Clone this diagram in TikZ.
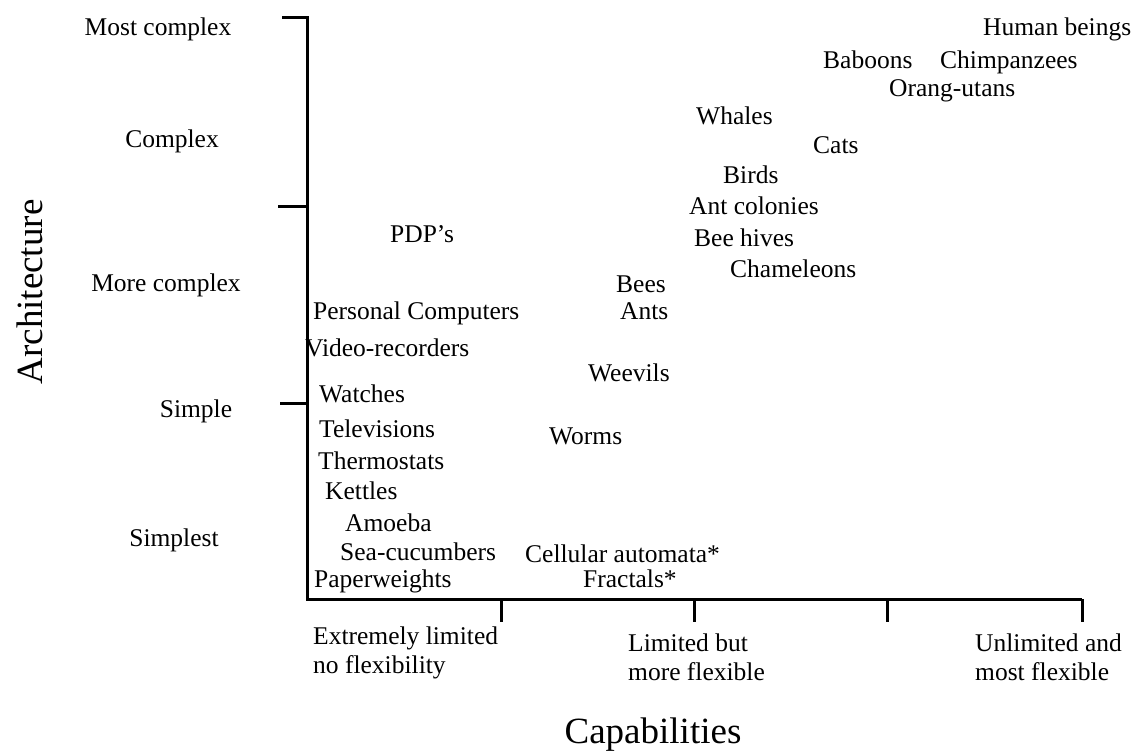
\documentclass[tikz,border=0pt]{standalone}
\usepackage{fontspec}
\setmainfont{Liberation Serif}
\begin{document}
\begin{tikzpicture}[x=1pt,y=-1pt,
  lbl/.style={inner sep=0pt,anchor=mid west,yshift=-5pt,font=\fontsize{25.5}{29}\selectfont},
  ylbl/.style={inner sep=0pt,anchor=mid,yshift=-5pt,font=\fontsize{25.5}{29}\selectfont},
  xlbl/.style={inner sep=0pt,anchor=north west,align=left,yshift=-3pt,font=\fontsize{25.5}{29}\selectfont},
  title/.style={inner sep=0pt,anchor=mid,font=\fontsize{37}{40}\selectfont},
  axis/.style={line width=3pt,line cap=butt},
  tick/.style={line width=3pt}]
\useasboundingbox (0,0) rectangle (1139,751);
% axes
\coordinate (top) at (307,18);
\coordinate (orig) at (307,599);
\coordinate (xend) at (1082,599);
\draw[axis,line join=miter] (282,18) -- (top) -- (orig) -- (xend);
\draw[tick] (278,207) -- (307,207);
\draw[tick] (280,403) -- (307,403);
\foreach \x in {501,694,887,1082} \draw[tick] (\x,599) -- (\x,622);
% axis titles
\node[title,rotate=90] (arch) at (40,292) {Architecture};
\node[title] (cap) at (653,741) {Capabilities};
% y labels
\node[ylbl] (ymc) at (158,28) {Most complex};
\node[ylbl] (yc) at (172,140) {Complex};
\node[ylbl] (ymo) at (166,284) {More complex};
\node[ylbl] (ys) at (196,410) {Simple};
\node[ylbl] (yst) at (174,539) {Simplest};
% x labels
\node[xlbl] (x1) at (313,624) {Extremely limited\\no flexibility};
\node[xlbl] (x2) at (628,631) {Limited but\\more flexible};
\node[xlbl] (x3) at (975,631) {Unlimited and\\most flexible};
% items
\node[lbl] (hum) at (983,28) {Human beings};
\node[lbl] (bab) at (823,61) {Baboons};
\node[lbl] (chi) at (940,61) {Chimpanzees};
\node[lbl] (ora) at (889,89) {Orang-utans};
\node[lbl] (wha) at (696,117) {Whales};
\node[lbl] (cat) at (813,146) {Cats};
\node[lbl] (bir) at (723,176) {Birds};
\node[lbl] (antc) at (689,207) {Ant colonies};
\node[lbl] (beeh) at (694,239) {Bee hives};
\node[lbl] (cha) at (730,270) {Chameleons};
\node[lbl] (pdp) at (390,235) {PDP's};
\node[lbl] (bees) at (616,285) {Bees};
\node[lbl] (ants) at (620,312) {Ants};
\node[lbl] (pc) at (313,312) {Personal Computers};
\node[lbl] (vid) at (305,349) {Video-recorders};
\node[lbl] (wee) at (588,374) {Weevils};
\node[lbl] (wat) at (319,395) {Watches};
\node[lbl] (tel) at (319,430) {Televisions};
\node[lbl] (wor) at (549,437) {Worms};
\node[lbl] (the) at (318,462) {Thermostats};
\node[lbl] (ket) at (325,492) {Kettles};
\node[lbl] (amo) at (345,524) {Amoeba};
\node[lbl] (sea) at (340,553) {Sea-cucumbers};
\node[lbl] (pap) at (314,580) {Paperweights};
\node[lbl] (cel) at (525,555) {Cellular automata*};
\node[lbl] (fra) at (583,580) {Fractals*};
\end{tikzpicture}
\end{document}
